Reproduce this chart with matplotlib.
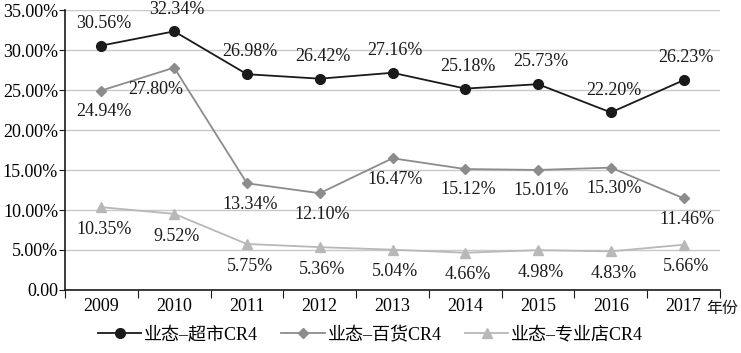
import matplotlib
matplotlib.use("Agg")
import matplotlib.pyplot as plt
from matplotlib.ticker import MultipleLocator, FuncFormatter

plt.rcParams["font.family"] = ["Liberation Serif", "Noto Sans CJK SC"]
plt.rcParams["axes.unicode_minus"] = False

years = ["2009", "2010", "2011", "2012", "2013", "2014", "2015", "2016", "2017"]
supermarket = [30.56, 32.34, 26.98, 26.42, 27.16, 25.18, 25.73, 22.20, 26.23]
department = [24.94, 27.80, 13.34, 12.10, 16.47, 15.12, 15.01, 15.30, 11.46]
specialty = [10.35, 9.52, 5.75, 5.36, 5.04, 4.66, 4.98, 4.83, 5.66]
names = ["业态–超市CR4", "业态–百货CR4", "业态–专业店CR4"]

# label offsets in points (dx, dy)
off_super = [(2, 16)] * 9
off_dept = [(2, -15), (-13, -16)] + [(2, -15)] * 7
off_spec = [(2, -16)] * 9

fs = 13

fig = plt.figure(figsize=(7.41, 3.53), dpi=100)
ax = fig.add_axes([0.0877, 0.1785, 0.884, 0.793])

x = list(range(len(years)))
ax.plot(x, supermarket, "-o", color="#1a1a1a", lw=1.3, ms=7, label=names[0], zorder=4)
ax.plot(x, department, "-D", color="#8c8c8c", lw=1.3, ms=5, label=names[1], zorder=3)
ax.plot(x, specialty, "-^", color="#b8b8b8", lw=1.3, ms=7, label=names[2], zorder=2)

for vals, offs in [(supermarket, off_super), (department, off_dept), (specialty, off_spec)]:
    for i, v in enumerate(vals):
        ax.annotate(f"{v:.2f}%", (i, v), xytext=offs[i], textcoords="offset points",
                    ha="center", va="center", fontsize=fs, color="#1a1a1a")

ax.set_xlim(-0.5, 8.5)
ax.set_ylim(0, 35)
ax.yaxis.set_major_locator(MultipleLocator(5))
ax.yaxis.set_major_formatter(FuncFormatter(lambda v, p: "0.00" if v == 0 else f"{v:.2f}%"))
ax.grid(axis="y", color="#c8c8c8", lw=1)
ax.set_axisbelow(True)

ax.set_xticks([i - 0.5 for i in range(10)], minor=False)
ax.set_xticklabels([])
ax.set_xticks(x, minor=True)
ax.set_xticklabels(years, minor=True)
ax.tick_params(axis="x", which="minor", length=0, pad=6, labelsize=fs)
ax.tick_params(axis="x", which="major", length=6, direction="out", color="#1a1a1a")
ax.tick_params(axis="y", length=4, direction="out", labelsize=fs, color="#1a1a1a", pad=1)
ax.text(8.53, -2.35, "年份", ha="center", va="center", fontsize=11.5, color="#1a1a1a",
        transform=ax.transData, clip_on=False)

for s in ["top", "right"]:
    ax.spines[s].set_visible(False)
ax.spines["left"].set_color("#1a1a1a")
ax.spines["bottom"].set_color("#1a1a1a")
ax.spines["left"].set_linewidth(1.2)
ax.spines["bottom"].set_linewidth(1.2)

fig.legend(loc="lower center", bbox_to_anchor=(0.5, -0.02), ncol=3, frameon=False,
           fontsize=fs, handlelength=2.4, columnspacing=1.3, handletextpad=0.15)

fig.savefig("out.png", dpi=100)
